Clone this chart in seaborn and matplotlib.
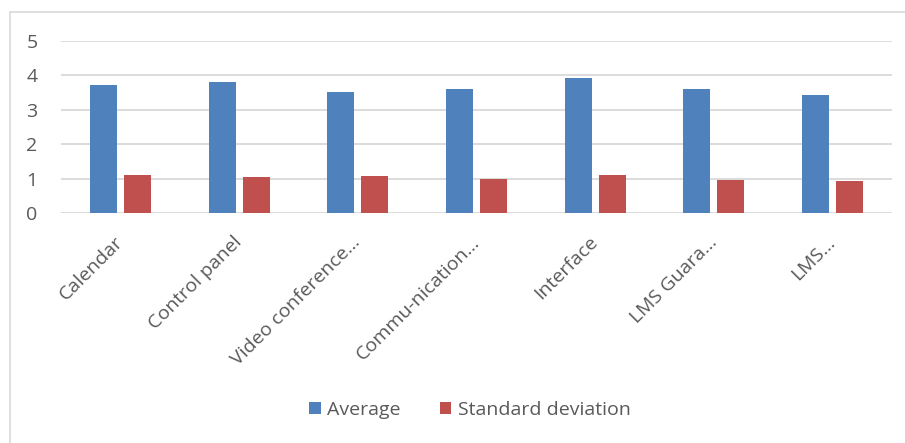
import matplotlib
matplotlib.use("Agg")
import matplotlib.pyplot as plt
from matplotlib.patches import Patch
from matplotlib.lines import Line2D
import seaborn as sns
import pandas as pd

categories = ["Calendar", "Control panel", "Video conference…", "Commu-nication…",
              "Interface", "LMS Guara…", "LMS…"]
average = [3.71, 3.81, 3.51, 3.61, 3.93, 3.61, 3.43]
std_dev = [1.09, 1.04, 1.07, 1.00, 1.09, 0.96, 0.94]
series_names = ["Average", "Standard deviation"]
colors = ["#4F81BD", "#C0504D"]

df = pd.DataFrame({
    "category": categories * 2,
    "value": average + std_dev,
    "series": [series_names[0]] * len(categories) + [series_names[1]] * len(categories),
})

sns.set_theme(style="white")
plt.rcParams["font.family"] = ["Open Sans", "DejaVu Sans"]
text_color = "#595959"
grid_color = "#D9D9D9"
fs = 14

fig = plt.figure(figsize=(9.05, 4.43), dpi=100)
ax = fig.add_axes([61 / 905, 1 - 213 / 443, (892 - 61) / 905, (213 - 40.7) / 443])

sns.barplot(data=df, x="category", y="value", hue="series", palette=colors,
            width=0.573, gap=0.206, ax=ax, legend=False, saturation=1,
            edgecolor="none")

ax.set_ylim(0, 5)
ax.set_yticks(range(0, 6))
ax.set_xlim(-0.5, len(categories) - 0.5)
ax.set_xlabel("")
ax.set_ylabel("")
for y in range(0, 6):
    ax.axhline(y, color=grid_color, lw=1.3, zorder=0)
for s in ax.spines.values():
    s.set_visible(False)

ax.tick_params(axis="y", length=0, pad=17, labelsize=fs, labelcolor=text_color)
ax.tick_params(axis="x", length=0, pad=19, labelsize=fs, labelcolor=text_color)
for lbl in ax.get_xticklabels():
    lbl.set_rotation(45)
    lbl.set_ha("right")
    lbl.set_va("center")
    lbl.set_rotation_mode("anchor")

handles = [Patch(facecolor=c, edgecolor="none", label=n) for c, n in zip(colors, series_names)]
fig.legend(handles=handles, loc="center", bbox_to_anchor=(470 / 905, 1 - 410 / 443),
           ncol=2, frameon=False, fontsize=fs, labelcolor=text_color,
           handlelength=0.6, handleheight=0.6, handletextpad=0.35, columnspacing=2.0)

# light chart-area frame
fig.add_artist(Line2D([9.5 / 905, 9.5 / 905], [0, 1 - 12 / 443], transform=fig.transFigure,
                      color=grid_color, lw=1.2))
fig.add_artist(Line2D([9.5 / 905, 1], [1 - 12 / 443, 1 - 12 / 443], transform=fig.transFigure,
                      color=grid_color, lw=1.2))

fig.savefig("out.png", dpi=100)
